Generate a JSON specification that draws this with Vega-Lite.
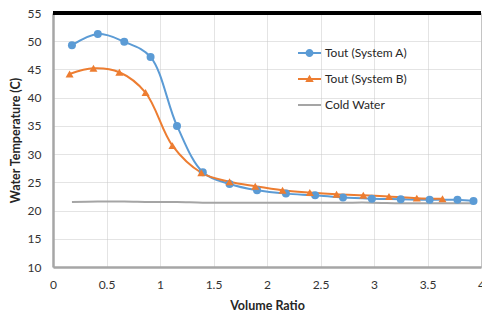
{
  "$schema": "https://vega.github.io/schema/vega-lite/v6.json",
  "autosize": "none",
  "width": 428,
  "height": 254,
  "padding": {"left": 53, "top": 13, "right": 1, "bottom": 49},
  "background": "white",
  "config": {
    "font": "Lato",
    "view": {"stroke": "#BFBFBF", "strokeWidth": 1},
    "axis": {
      "labelFont": "Lato", "labelFontSize": 12, "labelColor": "#333333",
      "titleFont": "Lato", "titleFontSize": 12.5, "titleFontWeight": "bold", "titleColor": "#262626",
      "ticks": false, "domainColor": "#A6A6A6", "domainWidth": 2.5,
      "gridColor": "#C8C8C8", "gridDash": [1, 1], "gridWidth": 1
    }
  },
  "data": {"values": [
    {"series": "Tout (System A)", "x": 0.177, "y": 49.3},
    {"series": "Tout (System A)", "x": 0.419, "y": 51.3},
    {"series": "Tout (System A)", "x": 0.666, "y": 49.9},
    {"series": "Tout (System A)", "x": 0.912, "y": 47.2},
    {"series": "Tout (System A)", "x": 1.159, "y": 35.0},
    {"series": "Tout (System A)", "x": 1.40, "y": 26.8},
    {"series": "Tout (System A)", "x": 1.65, "y": 24.7},
    {"series": "Tout (System A)", "x": 1.907, "y": 23.6},
    {"series": "Tout (System A)", "x": 2.177, "y": 23.0},
    {"series": "Tout (System A)", "x": 2.45, "y": 22.7},
    {"series": "Tout (System A)", "x": 2.71, "y": 22.3},
    {"series": "Tout (System A)", "x": 2.98, "y": 22.1},
    {"series": "Tout (System A)", "x": 3.25, "y": 22.0},
    {"series": "Tout (System A)", "x": 3.52, "y": 21.9},
    {"series": "Tout (System A)", "x": 3.78, "y": 21.9},
    {"series": "Tout (System A)", "x": 3.93, "y": 21.7},
    {"series": "Tout (System B)", "x": 0.155, "y": 44.2},
    {"series": "Tout (System B)", "x": 0.378, "y": 45.2},
    {"series": "Tout (System B)", "x": 0.62, "y": 44.5},
    {"series": "Tout (System B)", "x": 0.865, "y": 40.9},
    {"series": "Tout (System B)", "x": 1.116, "y": 31.5},
    {"series": "Tout (System B)", "x": 1.386, "y": 26.7},
    {"series": "Tout (System B)", "x": 1.65, "y": 25.1},
    {"series": "Tout (System B)", "x": 1.89, "y": 24.3},
    {"series": "Tout (System B)", "x": 2.145, "y": 23.6},
    {"series": "Tout (System B)", "x": 2.40, "y": 23.2},
    {"series": "Tout (System B)", "x": 2.65, "y": 22.9},
    {"series": "Tout (System B)", "x": 2.90, "y": 22.7},
    {"series": "Tout (System B)", "x": 3.14, "y": 22.5},
    {"series": "Tout (System B)", "x": 3.40, "y": 22.2},
    {"series": "Tout (System B)", "x": 3.64, "y": 22.1},
    {"series": "Cold Water", "x": 0.177, "y": 21.5},
    {"series": "Cold Water", "x": 0.419, "y": 21.6},
    {"series": "Cold Water", "x": 0.666, "y": 21.6},
    {"series": "Cold Water", "x": 0.912, "y": 21.5},
    {"series": "Cold Water", "x": 1.159, "y": 21.5},
    {"series": "Cold Water", "x": 1.40, "y": 21.4},
    {"series": "Cold Water", "x": 1.65, "y": 21.4},
    {"series": "Cold Water", "x": 1.907, "y": 21.4},
    {"series": "Cold Water", "x": 2.177, "y": 21.4},
    {"series": "Cold Water", "x": 2.45, "y": 21.4},
    {"series": "Cold Water", "x": 2.71, "y": 21.4},
    {"series": "Cold Water", "x": 2.98, "y": 21.4},
    {"series": "Cold Water", "x": 3.25, "y": 21.3},
    {"series": "Cold Water", "x": 3.52, "y": 21.3},
    {"series": "Cold Water", "x": 3.78, "y": 21.3},
    {"series": "Cold Water", "x": 3.93, "y": 21.3}
  ]},
  "encoding": {
    "x": {"field": "x", "type": "quantitative",
      "scale": {"domain": [0, 4], "nice": false, "zero": false},
      "axis": {"title": "Volume Ratio", "values": [0, 0.5, 1, 1.5, 2, 2.5, 3, 3.5, 4], "format": ".1~f", "labelPadding": 12, "titlePadding": 9, "labelFlush": false}},
    "y": {"field": "y", "type": "quantitative",
      "scale": {"domain": [10, 55], "nice": false, "zero": false},
      "axis": {"title": "Water Temperature (C)", "values": [10, 15, 20, 25, 30, 35, 40, 45, 50, 55], "labelPadding": 12, "titlePadding": 5}}
  },
  "layer": [
    {
      "mark": {"type": "line", "interpolate": "catmull-rom", "strokeWidth": 2},
      "encoding": {
        "color": {"field": "series", "type": "nominal",
          "scale": {"domain": ["Tout (System A)", "Tout (System B)", "Cold Water"], "range": ["#5B9BD5", "#ED7D31", "#A5A5A5"]},
          "legend": {
            "title": null, "orient": "none", "legendX": 250.5, "legendY": 34,
            "labelFont": "Lato", "labelFontSize": 12, "labelColor": "#262626",
            "symbolSize": 100, "labelOffset": 9.5, "rowPadding": 14, "padding": 0,
            "encode": {"symbols": {"update": {
              "shape": {"signal": "datum.value === 'Tout (System A)' ? 'M-2.3,-0.2H2.3V0.2H-2.3Z M0.8,0A0.8,0.8,0,1,1,-0.8,0A0.8,0.8,0,1,1,0.8,0Z' : datum.value === 'Tout (System B)' ? 'M-2.3,-0.2H2.3V0.2H-2.3Z M0,-0.85L0.85,0.6L-0.85,0.6Z' : 'M-2.3,-0.2H2.3V0.2H-2.3Z'"},
              "fill": {"signal": "scale('color', datum.value)"},
              "fillOpacity": {"value": 1},
              "strokeWidth": {"value": 0}
            }}}
          }}
      }
    },
    {
      "transform": [{"filter": "datum.series === 'Tout (System A)'"}],
      "mark": {"type": "point", "shape": "circle", "filled": true, "opacity": 1, "size": 64, "color": "#5B9BD5"}
    },
    {
      "transform": [{"filter": "datum.series === 'Tout (System B)'"}],
      "mark": {"type": "point", "shape": "triangle-up", "filled": true, "opacity": 1, "size": 64, "color": "#ED7D31"}
    },
    {
      "mark": {"type": "rule", "color": "#000000", "strokeWidth": 3},
      "encoding": {"y": {"datum": 55}, "x": {"datum": 0}, "x2": {"datum": 4}}
    }
  ]
}
